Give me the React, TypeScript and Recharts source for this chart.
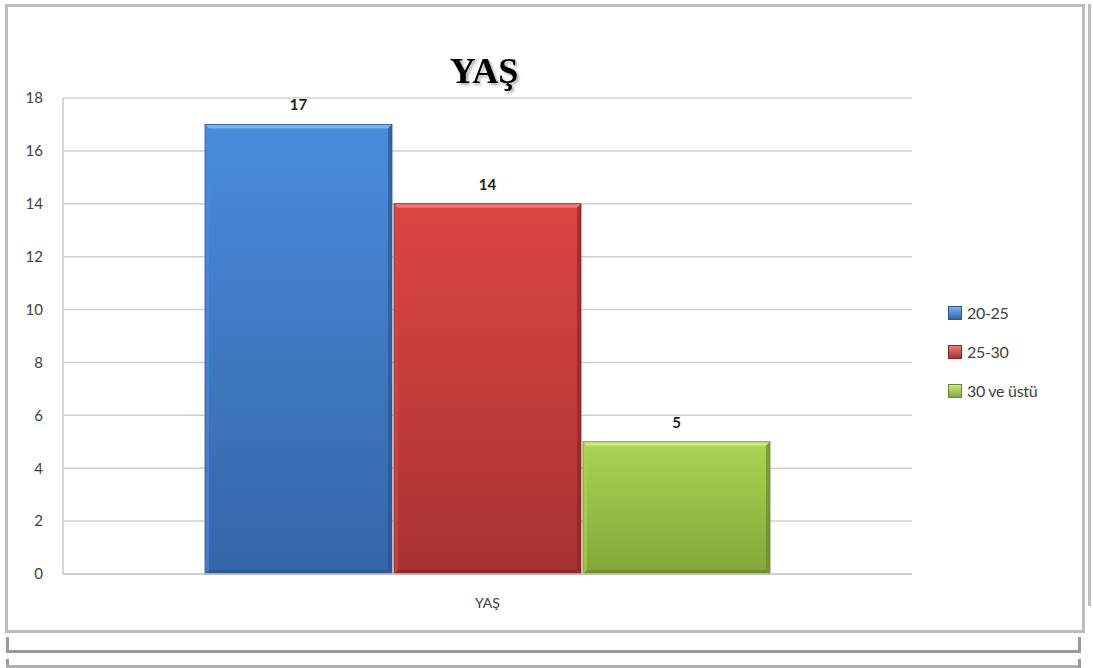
import React from "react";
import { BarChart, Bar, XAxis, YAxis, CartesianGrid, LabelList } from "recharts";

const categories = ["YAŞ"];
const seriesNames = ["20-25", "25-30", "30 ve üstü"];
const seriesValues = [17, 14, 5];
const yTicks = [0, 2, 4, 6, 8, 10, 12, 14, 16, 18];

const colors = [
  { top: "#4a8cdc", bottom: "#3465a8", edge: "#2a5690", light: "#78b4f0" },
  { top: "#dc4642", bottom: "#a83232", edge: "#8a2626", light: "#ee7a74" },
  { top: "#a9d554", bottom: "#84a63a", edge: "#6a8a2a", light: "#c8ec80" },
];

const keys = ["s0", "s1", "s2"];

const data = categories.map((name) => {
  const row: Record<string, string | number> = { name };
  seriesValues.forEach((v, i) => {
    row[keys[i]] = v;
  });
  return row;
});

const font = "Lato, 'Open Sans', sans-serif";

const BevelBar = (props: any) => {
  const { x, y, width, height, fillIdx } = props;
  const c = colors[fillIdx];
  const b = 4;
  return (
    <g>
      <rect x={x} y={y} width={width} height={height} fill={`url(#g${fillIdx})`} />
      <polygon
        points={`${x},${y} ${x + width},${y} ${x + width - b},${y + b} ${x + b},${y + b}`}
        fill={c.light}
      />
      <polygon
        points={`${x + width},${y} ${x + width},${y + height} ${x + width - b},${y + height - b} ${x + width - b},${y + b}`}
        fill={c.edge}
        opacity={0.7}
      />
      <polygon
        points={`${x},${y + height} ${x + width},${y + height} ${x + width - b},${y + height - b} ${x + b},${y + height - b}`}
        fill={c.edge}
        opacity={0.8}
      />
      <polygon
        points={`${x},${y} ${x + b},${y + b} ${x + b},${y + height - b} ${x},${y + height}`}
        fill={c.top}
        opacity={0.6}
      />
      <rect x={x} y={y} width={width} height={height} fill="none" stroke={c.edge} strokeWidth={0.8} />
    </g>
  );
};

const line = "#bdbdbd";

export default function App() {
  return (
    <div style={{ position: "fixed", left: 0, top: 0, width: 1093, height: 668, background: "#fff" }}>
      {/* frame */}
      <div style={{ position: "absolute", left: 5, top: 4, width: 1074, height: 623, border: `3px solid ${line}` }} />
      <div style={{ position: "absolute", left: 1088, top: 4, width: 3, height: 602, background: line }} />
      <div style={{ position: "absolute", left: 6, top: 637, width: 3, height: 14, background: "#9a9a9a" }} />
      <div style={{ position: "absolute", left: 6, top: 650, width: 1075, height: 3, background: "#9a9a9a" }} />
      <div style={{ position: "absolute", left: 1078, top: 637, width: 3, height: 14, background: "#9a9a9a" }} />
      <div style={{ position: "absolute", left: 6, top: 659, width: 3, height: 9, background: "#9a9a9a" }} />
      <div style={{ position: "absolute", left: 6, top: 665, width: 1075, height: 3, background: "#b0b0b0" }} />
      <div style={{ position: "absolute", left: 1078, top: 659, width: 3, height: 9, background: "#9a9a9a" }} />

      <svg style={{ position: "absolute", left: 0, top: 0 }} width={1093} height={120}>
        <text
          x={484}
          y={83}
          textAnchor="middle"
          fontFamily="'Liberation Serif', 'Times New Roman', 'DejaVu Serif', serif"
          fontWeight="bold"
          fontSize={36}
          fill="#000"
          style={{ filter: "drop-shadow(2px 2px 1.5px rgba(0,0,0,0.35))" }}
        >
          YAŞ
        </text>
      </svg>

      <div style={{ position: "absolute", left: 0, top: 0 }}>
        <BarChart
          width={1093}
          height={668}
          data={data}
          margin={{ top: 98, right: 181, bottom: 64, left: 3 }}
          barGap={2}
          barSize={187}
        >
          <defs>
            {colors.map((c, i) => (
              <linearGradient key={i} id={`g${i}`} x1="0" y1="0" x2="0" y2="1">
                <stop offset="0%" stopColor={c.top} />
                <stop offset="100%" stopColor={c.bottom} />
              </linearGradient>
            ))}
          </defs>
          <CartesianGrid vertical={false} stroke="#cfcfcf" strokeWidth={1.5} />
          <XAxis
            dataKey="name"
            height={30}
            tickLine={false}
            axisLine={{ stroke: "#c8c8c8", strokeWidth: 1.5 }}
            tick={{ fill: "#404040", fontSize: 14, fontFamily: font }}
            tickMargin={18}
          />
          <YAxis
            width={60}
            domain={[0, 18]}
            ticks={yTicks}
            interval={0}
            tickLine={false}
            axisLine={{ stroke: "#c8c8c8", strokeWidth: 1.5 }}
            tick={{ fill: "#404040", fontSize: 15, fontFamily: font }}
            tickMargin={14}
          />
          {keys.map((k, i) => (
            <Bar
              key={k}
              dataKey={k}
              name={seriesNames[i]}
              isAnimationActive={false}
              shape={(p: any) => <BevelBar {...p} fillIdx={i} />}
            >
              <LabelList
                dataKey={k}
                position="top"
                offset={14}
                style={{ fill: "#222", fontSize: 15, fontWeight: "bold", fontFamily: font }}
              />
            </Bar>
          ))}
        </BarChart>
      </div>

      {/* legend */}
      <div style={{ position: "absolute", left: 948, top: 293, fontFamily: font, fontSize: 16, color: "#404040" }}>
        {seriesNames.map((n, i) => (
          <div key={n} style={{ display: "flex", alignItems: "center", height: 39 }}>
            <span
              style={{
                display: "inline-block",
                width: 12,
                height: 12,
                marginRight: 5,
                background: `linear-gradient(${colors[i].light}, ${colors[i].bottom})`,
                border: `1px solid ${colors[i].edge}`,
              }}
            />
            <span style={{ letterSpacing: -0.3 }}>{n}</span>
          </div>
        ))}
      </div>
    </div>
  );
}
